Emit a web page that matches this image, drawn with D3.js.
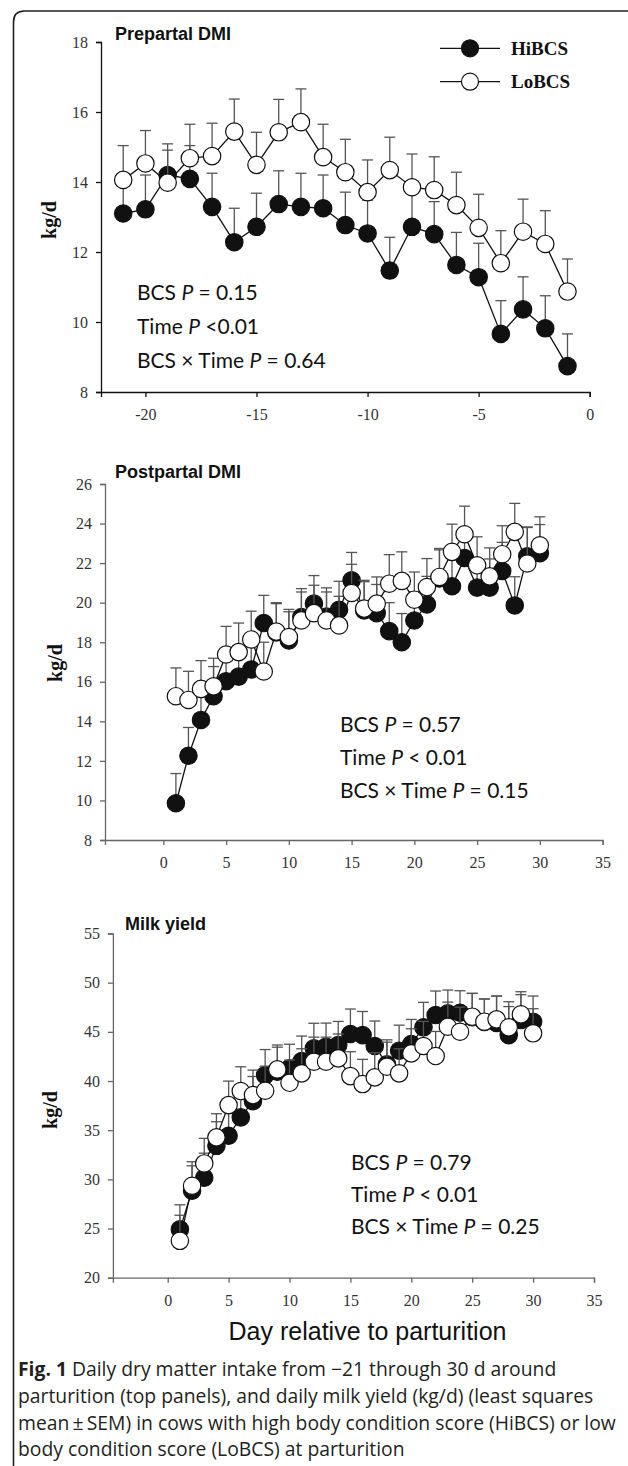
<!DOCTYPE html>
<html><head><meta charset="utf-8">
<script src="https://cdn.jsdelivr.net/npm/d3@7"></script>
<style>body{margin:0;background:#fff}svg{display:block}</style>
</head><body><svg id="c" width="628" height="1466"></svg>
<script>
// ---------- data ----------
const prepDays = [-21,-20,-19,-18,-17,-16,-15,-14,-13,-12,-11,-10,-9,-8,-7,-6,-5,-4,-3,-2,-1];
const prepHi    = [13.10,13.22,14.20,14.09,13.29,12.28,12.72,13.37,13.29,13.25,12.77,12.53,11.47,12.72,12.51,11.63,11.28,9.66,10.36,9.82,8.74];
const prepHiSem = [0.90,0.98,0.89,0.95,0.96,0.97,0.96,0.95,0.96,0.95,0.94,0.95,0.95,0.95,0.93,0.93,0.97,0.95,0.93,0.93,0.92];
const prepLo    = [14.06,14.53,13.98,14.68,14.74,15.44,14.49,15.42,15.71,14.71,14.28,13.71,14.34,13.85,13.77,13.34,12.69,11.68,12.58,12.23,10.87];
const prepLoSem = [0.98,0.94,0.93,0.97,0.94,0.93,0.93,0.94,0.95,0.94,0.94,0.92,0.94,0.95,0.95,0.94,0.96,0.93,0.93,0.95,0.93];

const postDays = [1,2,3,4,5,6,7,8,9,10,11,12,13,14,15,16,17,18,19,20,21,22,23,24,25,26,27,28,29,30];
const postHi    = [9.86,12.26,14.07,15.27,16.03,16.26,16.62,18.97,18.50,18.09,19.27,19.95,19.30,19.64,21.13,19.61,19.47,18.56,18.00,19.10,19.91,21.22,20.83,22.26,20.76,20.76,21.60,19.86,22.35,22.50];
const postHiSem = [1.50,1.43,1.45,1.50,1.45,1.45,1.45,1.40,1.45,1.45,1.44,1.42,1.45,1.44,1.41,1.45,1.45,1.44,1.45,1.45,1.42,1.45,1.45,1.45,1.45,1.45,1.45,1.45,1.45,1.45];
const postLo    = [15.27,15.08,15.64,15.77,17.38,17.50,18.14,16.52,18.54,18.26,19.10,19.47,19.10,18.85,20.49,19.70,19.95,20.96,21.10,20.15,20.79,21.30,22.57,23.46,21.89,21.33,22.45,23.58,21.98,22.90];
const postLoSem = [1.43,1.45,1.43,1.42,1.42,1.47,1.43,1.48,1.46,1.40,1.44,1.41,1.44,1.47,1.45,1.43,1.35,1.47,1.47,1.40,1.44,1.44,1.40,1.42,1.44,1.44,1.44,1.44,1.85,1.44];

const milkDays = [1,2,3,4,5,6,7,8,9,10,11,12,13,14,15,16,17,18,19,20,21,22,23,24,25,26,27,28,29,30];
const milkHi    = [24.91,28.84,30.16,33.41,34.43,36.30,37.96,40.60,40.94,41.29,42.03,43.32,43.49,43.66,44.78,44.67,43.56,41.69,43.08,43.76,45.46,46.71,46.88,46.94,46.50,46.00,45.90,44.67,46.20,46.03];
const milkHiSem = [2.50,2.54,2.50,2.45,2.50,2.50,2.50,2.60,2.50,2.45,2.54,2.55,2.40,2.40,2.54,2.40,2.54,2.50,2.60,2.50,2.54,2.44,2.37,2.24,2.41,2.34,2.74,2.90,2.58,2.61];
const milkLo    = [23.75,29.35,31.62,34.27,37.55,38.98,38.57,39.01,41.18,39.82,40.78,41.96,41.96,42.30,40.50,39.69,40.37,41.45,40.78,42.81,43.56,42.54,45.52,45.01,46.54,46.03,46.27,45.46,46.78,44.85];
const milkLoSem = [2.60,2.44,2.55,2.40,2.44,2.47,2.54,2.50,2.48,2.31,2.50,2.50,2.50,2.48,2.48,2.51,2.50,2.50,2.50,2.50,2.50,2.50,2.50,2.50,2.37,2.31,2.37,2.60,2.30,2.50];

const prepXTicks = [-20,-15,-10,-5,0];
const prepYTicks = [8,10,12,14,16,18];
const postXTicks = [0,5,10,15,20,25,30,35];
const postYTicks = [8,10,12,14,16,18,20,22,24,26];
const milkXTicks = [0,5,10,15,20,25,30,35];
const milkYTicks = [20,25,30,35,40,45,50,55];

const seriesNames = ["HiBCS","LoBCS"];

// ---------- drawing ----------
const svg = d3.select('#c');

// figure frame
svg.append('path')
  .attr('d','M13.5,1466 L13.5,22 Q13.5,11 24.5,11 L628,11')
  .attr('fill','none').attr('stroke','#231f20').attr('stroke-width',1.6);

function panel(cfg){
  const g = svg.append('g');
  const x = d3.scaleLinear().domain(cfg.xDomain).range(cfg.xRange);
  const y = d3.scaleLinear().domain(cfg.yDomain).range(cfg.yRange);
  const ax = cfg.axisColor;

  const yAx = g.append('g').attr('transform',`translate(${cfg.xRange[0]},0)`)
    .call(d3.axisLeft(y).tickValues(cfg.yTicks).tickFormat(d3.format('d')).tickSizeOuter(0).tickSize(5).tickPadding(8));
  const xAx = g.append('g').attr('transform',`translate(0,${cfg.yRange[0]})`)
    .call(d3.axisBottom(x).tickValues(cfg.xTicks).tickFormat(d=>d<0?'-'+Math.abs(d):d).tickSizeOuter(0).tickSize(5).tickPadding(12));
  [yAx,xAx].forEach(a=>{
    a.selectAll('path,line').attr('stroke',ax).attr('stroke-width',1.3);
    a.selectAll('text').attr('font-family','"Liberation Serif","Times New Roman",serif')
      .attr('font-size',16).attr('fill','#333');
  });

  // title
  g.append('text').attr('x',cfg.titleX).attr('y',cfg.titleY)
    .attr('font-family','"Liberation Sans",Arial,sans-serif').attr('font-weight','bold')
    .attr('font-size',18).attr('fill','#111').text(cfg.title);

  // y label
  g.append('text').attr('transform',`translate(${cfg.labelX},${cfg.labelY}) rotate(-90)`)
    .attr('text-anchor','middle')
    .attr('font-family','"Liberation Serif","Times New Roman",serif').attr('font-weight','bold')
    .attr('font-size',20).attr('fill','#111').text('kg/d');

  const series = [
    {v:cfg.hi, s:cfg.hiSem, fill:'#111'},
    {v:cfg.lo, s:cfg.loSem, fill:'#fff'}
  ];
  const line = d3.line().x((d,i)=>x(cfg.days[i])).y(d=>y(d));
  series.forEach(se=>{
    const eb = g.append('g').attr('stroke','#555').attr('stroke-width',1.3);
    se.v.forEach((v,i)=>{
      const cx = x(cfg.days[i]), y0=y(v), y1=y(v+se.s[i]);
      eb.append('line').attr('x1',cx).attr('x2',cx).attr('y1',y0).attr('y2',y1);
      eb.append('line').attr('x1',cx-5.5).attr('x2',cx+5.5).attr('y1',y1).attr('y2',y1);
    });
    g.append('path').datum(se.v).attr('d',line).attr('fill','none').attr('stroke','#111').attr('stroke-width',1.3);
    g.append('g').selectAll('circle').data(se.v).join('circle')
      .attr('cx',(d,i)=>x(cfg.days[i])).attr('cy',d=>y(d)).attr('r',cfg.r)
      .attr('fill',se.fill).attr('stroke','#111').attr('stroke-width',1.2);
  });

  // stats text
  cfg.stats.forEach((parts,k)=>{
    const t = g.append('text').attr('x',cfg.statsX).attr('y',cfg.statsY[k])
      .attr('font-family','Lato,"Open Sans",sans-serif').attr('font-size',21).attr('fill','#111');
    parts.forEach(p=>{
      t.append('tspan').attr('font-style',p.i?'italic':'normal').text(p.t);
    });
  });
  return {x,y,g};
}

panel({
  days:prepDays, hi:prepHi, hiSem:prepHiSem, lo:prepLo, loSem:prepLoSem,
  xDomain:[-22,0], xRange:[101,589.7], yDomain:[8,18], yRange:[392,42],
  xTicks:prepXTicks, yTicks:prepYTicks, axisColor:'#111',
  title:'Prepartal DMI', titleX:115, titleY:39.5,
  labelX:56, labelY:220, r:8.7,
  stats:[[{t:'BCS '},{t:'P',i:1},{t:' = 0.15'}],[{t:'Time '},{t:'P',i:1},{t:' <0.01'}],[{t:'BCS × Time '},{t:'P',i:1},{t:' = 0.64'}]],
  statsX:137, statsY:[300,334,368]
});

// legend in panel 1
const leg = svg.append('g');
[{n:seriesNames[0],fill:'#111',y:48.3},{n:seriesNames[1],fill:'#fff',y:81.7}].forEach(l=>{
  leg.append('line').attr('x1',440).attr('x2',500).attr('y1',l.y).attr('y2',l.y).attr('stroke','#111').attr('stroke-width',1.3);
  leg.append('circle').attr('cx',470).attr('cy',l.y).attr('r',8.5).attr('fill',l.fill).attr('stroke','#111').attr('stroke-width',1.2);
  leg.append('text').attr('x',511).attr('y',l.y+6.5)
    .attr('font-family','"Liberation Serif","Times New Roman",serif').attr('font-weight','bold')
    .attr('font-size',19).attr('fill','#111').text(l.n);
});

panel({
  days:postDays, hi:postHi, hiSem:postHiSem, lo:postLo, loSem:postLoSem,
  xDomain:[-4.65,35], xRange:[105,602.6], yDomain:[8,26], yRange:[840,484],
  xTicks:postXTicks, yTicks:postYTicks, axisColor:'#666',
  title:'Postpartal DMI', titleX:115, titleY:478,
  labelX:62, labelY:663, r:8.7,
  stats:[[{t:'BCS '},{t:'P',i:1},{t:' = 0.57'}],[{t:'Time '},{t:'P',i:1},{t:' < 0.01'}],[{t:'BCS × Time '},{t:'P',i:1},{t:' = 0.15'}]],
  statsX:340, statsY:[732,765,798]
});

panel({
  days:milkDays, hi:milkHi, hiSem:milkHiSem, lo:milkLo, loSem:milkLoSem,
  xDomain:[-4.5,35], xRange:[112.9,594], yDomain:[20,55], yRange:[1277.7,933.5],
  xTicks:milkXTicks, yTicks:milkYTicks, axisColor:'#666',
  title:'Milk yield', titleX:125, titleY:930,
  labelX:57, labelY:1110, r:8.7,
  stats:[[{t:'BCS '},{t:'P',i:1},{t:' = 0.79'}],[{t:'Time '},{t:'P',i:1},{t:' < 0.01'}],[{t:'BCS × Time '},{t:'P',i:1},{t:' = 0.25'}]],
  statsX:351, statsY:[1170,1202,1234]
});

// x axis title (fitted so it spans ~228..506 as in the reference)
const dayT = svg.append('text').attr('x',367.5).attr('y',1340).attr('text-anchor','middle')
  .attr('font-family','"Liberation Sans",Arial,sans-serif').attr('font-size',24).attr('fill','#111')
  .text('Day relative to parturition');
{
  const w = dayT.node().getComputedTextLength();
  if (w > 0) dayT.attr('font-size', Math.min(27, Math.max(21, 24*278/w)));
}

// caption
const capLines = [
  [{t:'Fig. 1',b:1},{t:' Daily dry matter intake from \u221221 through 30 d around'}],
  [{t:'parturition (top panels), and daily milk yield (kg/d) (least squares'}],
  [{t:'mean\u2009\u00b1\u2009SEM) in cows with high body condition score (HiBCS) or low'}],
  [{t:'body condition score (LoBCS) at parturition'}]
];
const capY = [1376,1403,1430,1456];
const capNodes = capLines.map((parts,k)=>{
  const t = svg.append('text').attr('x',18).attr('y',capY[k])
    .attr('font-family','"Open Sans",sans-serif').attr('font-size',18).attr('fill','#231f20');
  parts.forEach(p=>t.append('tspan').attr('font-weight',p.b?'bold':'normal').text(p.t));
  return t;
});
{
  // the longest line (3rd) runs from x=18 to about x=617 in the reference
  const w = capNodes[2].node().getComputedTextLength();
  if (w > 0) {
    const fs = Math.min(20, Math.max(17, 18*598/w));
    capNodes.forEach(t=>t.attr('font-size',fs));
  }
}
</script></body></html>
